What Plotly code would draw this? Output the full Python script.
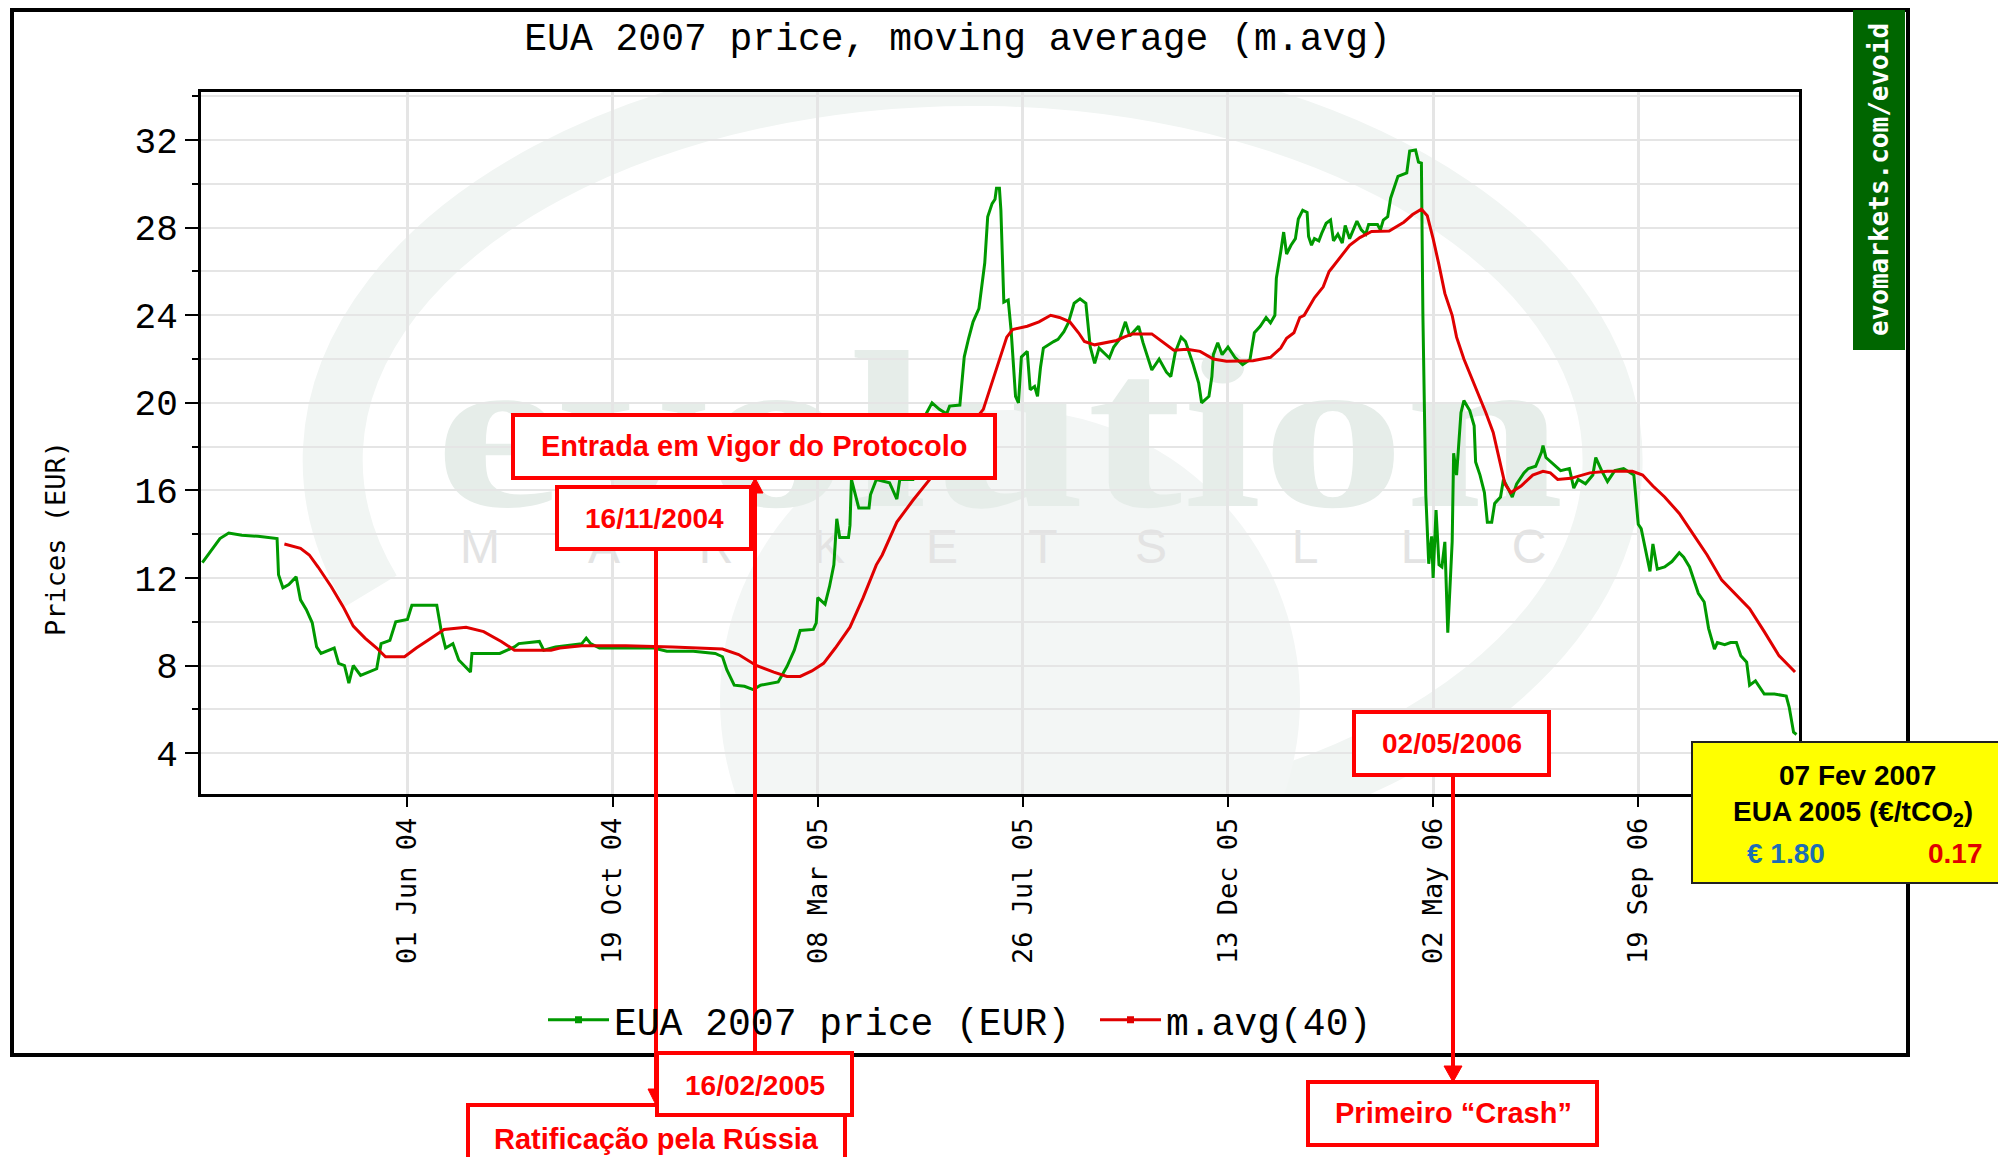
import base64
import plotly.graph_objects as go

# ---------------- data ----------------
price_dates = [
    "2004-01-13", "2004-01-25", "2004-01-31", "2004-02-09", "2004-02-20", "2004-03-04", "2004-03-05",
    "2004-03-08", "2004-03-12", "2004-03-17", "2004-03-20", "2004-03-24", "2004-03-28", "2004-03-31",
    "2004-04-03", "2004-04-12", "2004-04-15", "2004-04-19", "2004-04-22", "2004-04-25", "2004-04-30",
    "2004-05-05", "2004-05-11", "2004-05-14", "2004-05-20", "2004-05-24", "2004-06-01", "2004-06-04",
    "2004-06-21", "2004-06-24", "2004-06-27", "2004-07-02", "2004-07-06", "2004-07-14", "2004-07-15",
    "2004-08-03", "2004-08-13", "2004-08-16", "2004-08-30", "2004-09-02", "2004-09-10", "2004-09-28",
    "2004-10-01", "2004-10-04", "2004-10-10", "2004-10-29", "2004-11-16", "2004-11-25", "2004-12-13",
    "2004-12-28", "2005-01-02", "2005-01-05", "2005-01-10", "2005-01-17", "2005-01-23", "2005-01-28",
    "2005-02-09", "2005-02-15", "2005-02-20", "2005-02-24", "2005-03-05", "2005-03-07", "2005-03-08",
    "2005-03-13", "2005-03-16", "2005-03-19", "2005-03-21", "2005-03-23", "2005-03-29", "2005-03-30",
    "2005-03-31", "2005-04-05", "2005-04-12", "2005-04-13", "2005-04-17", "2005-04-26", "2005-05-01",
    "2005-05-03", "2005-05-12", "2005-05-17", "2005-05-21", "2005-05-25", "2005-05-30", "2005-06-04",
    "2005-06-06", "2005-06-13", "2005-06-14", "2005-06-16", "2005-06-19", "2005-06-22", "2005-06-26",
    "2005-06-28", "2005-06-30", "2005-07-02", "2005-07-05", "2005-07-07", "2005-07-08", "2005-07-10",
    "2005-07-11", "2005-07-13", "2005-07-16", "2005-07-18", "2005-07-21", "2005-07-23", "2005-07-25",
    "2005-07-29", "2005-07-31", "2005-08-03", "2005-08-05", "2005-08-07", "2005-08-09", "2005-08-16",
    "2005-08-19", "2005-08-23", "2005-08-26", "2005-08-30", "2005-09-03", "2005-09-07", "2005-09-10",
    "2005-09-13", "2005-09-16", "2005-09-23", "2005-09-26", "2005-09-30", "2005-10-04", "2005-10-07",
    "2005-10-13", "2005-10-16", "2005-10-20", "2005-10-22", "2005-10-27", "2005-11-01", "2005-11-04",
    "2005-11-07", "2005-11-11", "2005-11-14", "2005-11-19", "2005-11-23", "2005-11-25", "2005-11-30",
    "2005-12-02", "2005-12-03", "2005-12-06", "2005-12-09", "2005-12-13", "2005-12-18", "2005-12-23",
    "2005-12-28", "2005-12-31", "2006-01-04", "2006-01-08", "2006-01-11", "2006-01-14", "2006-01-15",
    "2006-01-18", "2006-01-20", "2006-01-22", "2006-01-25", "2006-01-28", "2006-01-30", "2006-02-02",
    "2006-02-05", "2006-02-06", "2006-02-08", "2006-02-10", "2006-02-13", "2006-02-15", "2006-02-18",
    "2006-02-21", "2006-02-23", "2006-02-26", "2006-03-01", "2006-03-03", "2006-03-06", "2006-03-11",
    "2006-03-14", "2006-03-17", "2006-03-19", "2006-03-25", "2006-03-27", "2006-03-29", "2006-04-01",
    "2006-04-03", "2006-04-06", "2006-04-08", "2006-04-14", "2006-04-16", "2006-04-20", "2006-04-22",
    "2006-04-24", "2006-04-25", "2006-04-27", "2006-04-29", "2006-05-01", "2006-05-02", "2006-05-04",
    "2006-05-06", "2006-05-08", "2006-05-10", "2006-05-12", "2006-05-15", "2006-05-16", "2006-05-18",
    "2006-05-21", "2006-05-23", "2006-05-27", "2006-05-30", "2006-05-31", "2006-06-03", "2006-06-06",
    "2006-06-08", "2006-06-11", "2006-06-13", "2006-06-17", "2006-06-19", "2006-06-22", "2006-06-25",
    "2006-06-28", "2006-07-03", "2006-07-06", "2006-07-11", "2006-07-15", "2006-07-16", "2006-07-18",
    "2006-07-23", "2006-07-28", "2006-08-03", "2006-08-06", "2006-08-09", "2006-08-14", "2006-08-19",
    "2006-08-21", "2006-08-25", "2006-08-29", "2006-09-03", "2006-09-09", "2006-09-16", "2006-09-19",
    "2006-09-21", "2006-09-25", "2006-09-27", "2006-09-29", "2006-10-02", "2006-10-07", "2006-10-12",
    "2006-10-17", "2006-10-20", "2006-10-24", "2006-10-28", "2006-10-30", "2006-11-03", "2006-11-06",
    "2006-11-10", "2006-11-12", "2006-11-17", "2006-11-21", "2006-11-25", "2006-11-28", "2006-12-02",
    "2006-12-04", "2006-12-08", "2006-12-12", "2006-12-14", "2006-12-21", "2006-12-29", "2006-12-31",
    "2007-01-03", "2007-01-05",
]
price_vals = [
    12.7, 13.8, 14.05, 13.95, 13.9, 13.8, 12.15,
    11.55, 11.7, 12.05, 11.0, 10.55, 9.95, 8.85,
    8.55, 8.8, 8.1, 8.0, 7.2, 8.0, 7.55,
    7.7, 7.85, 9.0, 9.15, 10.0, 10.1, 10.75,
    10.75, 9.6, 8.8, 9.0, 8.25, 7.7, 8.55,
    8.55, 8.85, 9.0, 9.1, 8.7, 8.85, 9.0,
    9.25, 9.0, 8.8, 8.8, 8.8, 8.65, 8.65,
    8.55, 8.4, 7.8, 7.1, 7.05, 6.9, 7.1,
    7.25, 7.95, 8.7, 9.6, 9.65, 9.95, 11.1,
    10.8, 11.6, 12.6, 14.7, 13.85, 13.85, 14.4,
    16.5, 15.2, 15.2, 15.8, 16.5, 16.35, 15.6,
    16.5, 16.5, 18.0, 19.5, 20.0, 19.7, 19.5,
    19.85, 19.9, 20.7, 22.1, 22.95, 23.7, 24.3,
    25.5, 26.4, 28.5, 29.1, 29.3, 29.8, 29.8,
    28.8, 24.6, 24.7, 23.3, 20.3, 20.0, 22.1,
    22.35, 20.6, 20.75, 20.3, 21.6, 22.5, 22.8,
    22.9, 23.25, 23.65, 24.55, 24.75, 24.55, 22.55,
    21.8, 22.5, 22.05, 22.55, 22.9, 23.7, 23.05,
    23.5, 22.75, 21.9, 21.5, 22.0, 21.4, 21.2,
    22.3, 23.0, 22.8, 21.8, 20.9, 20.0, 20.3,
    21.2, 22.2, 22.75, 22.2, 22.55, 22.05, 21.75,
    21.97, 23.2, 23.5, 23.9, 23.65, 24.0, 25.7,
    26.9, 27.8, 26.8, 27.2, 27.5, 28.4, 28.8,
    28.7, 27.6, 27.2, 27.5, 27.4, 27.75, 28.2,
    28.35, 27.4, 27.7, 27.3, 28.1, 27.5, 28.3,
    27.9, 27.7, 28.15, 28.15, 27.9, 28.35, 28.5,
    29.35, 29.95, 30.35, 30.5, 31.5, 31.55, 31.0,
    30.95, 24.1, 15.8, 12.65, 13.9, 12.0, 15.1,
    12.6, 12.5, 13.65, 9.5, 13.65, 17.7, 16.7,
    19.55, 20.1, 19.65, 18.95, 17.3, 16.7, 15.9,
    14.55, 14.55, 15.4, 15.7, 16.5, 16.1, 15.7,
    16.3, 16.8, 17.0, 17.1, 17.75, 18.05, 17.5,
    17.2, 16.9, 17.0, 16.1, 16.5, 16.3, 16.7,
    17.5, 16.9, 16.4, 16.9, 17.0, 16.7, 14.45,
    14.25, 12.85, 12.3, 13.55, 12.4, 12.5, 12.75,
    13.15, 12.95, 12.5, 11.7, 11.3, 10.9, 9.7,
    8.75, 9.05, 8.95, 9.05, 9.05, 8.45, 8.15,
    7.1, 7.3, 6.9, 6.7, 6.7, 6.6, 6.1,
    4.95, 4.85,
]

mavg_dates = [
    "2004-03-09", "2004-03-20", "2004-03-26", "2004-04-01", "2004-04-10", "2004-04-18", "2004-04-25",
    "2004-05-03", "2004-05-11", "2004-05-17", "2004-05-30", "2004-06-07", "2004-06-15", "2004-06-26",
    "2004-07-11", "2004-07-23", "2004-08-04", "2004-08-13", "2004-09-07", "2004-09-13", "2004-09-28",
    "2004-10-28", "2004-11-29", "2005-01-02", "2005-01-13", "2005-01-25", "2005-02-06", "2005-02-15",
    "2005-02-24", "2005-03-04", "2005-03-12", "2005-03-20", "2005-03-30", "2005-04-08", "2005-04-17",
    "2005-04-21", "2005-05-01", "2005-05-12", "2005-05-24", "2005-06-04", "2005-06-17", "2005-06-29",
    "2005-07-05", "2005-07-10", "2005-07-15", "2005-07-19", "2005-07-29", "2005-08-06", "2005-08-14",
    "2005-08-20", "2005-08-27", "2005-09-02", "2005-09-06", "2005-09-13", "2005-09-21", "2005-09-28",
    "2005-10-03", "2005-10-09", "2005-10-22", "2005-10-30", "2005-11-06", "2005-11-15", "2005-11-24",
    "2005-12-03", "2005-12-12", "2005-12-30", "2006-01-11", "2006-01-18", "2006-01-22", "2006-01-27",
    "2006-01-31", "2006-02-03", "2006-02-10", "2006-02-16", "2006-02-20", "2006-02-23", "2006-03-01",
    "2006-03-06", "2006-03-13", "2006-03-21", "2006-04-02", "2006-04-12", "2006-04-18", "2006-04-24",
    "2006-04-28", "2006-05-02", "2006-05-06", "2006-05-10", "2006-05-15", "2006-05-18", "2006-05-23",
    "2006-05-28", "2006-06-02", "2006-06-07", "2006-06-12", "2006-06-17", "2006-06-20", "2006-06-24",
    "2006-07-01", "2006-07-09", "2006-07-16", "2006-07-21", "2006-07-26", "2006-08-04", "2006-08-17",
    "2006-08-29", "2006-09-15", "2006-09-22", "2006-09-29", "2006-10-07", "2006-10-17", "2006-10-26",
    "2006-11-05", "2006-11-15", "2006-11-25", "2006-12-04", "2006-12-14", "2006-12-24", "2007-01-04",
]
mavg_vals = [
    13.55, 13.35, 13.05, 12.5, 11.6, 10.7, 9.8,
    9.25, 8.8, 8.4, 8.4, 8.8, 9.15, 9.65,
    9.75, 9.55, 9.1, 8.7, 8.7, 8.8, 8.9,
    8.9, 8.85, 8.75, 8.5, 8.0, 7.7, 7.5,
    7.5, 7.75, 8.1, 8.8, 9.75, 11.1, 12.6,
    13.05, 14.55, 15.55, 16.55, 17.55, 18.7, 19.7,
    20.9, 22.0, 23.0, 23.35, 23.5, 23.7, 24.0,
    23.9, 23.7, 23.2, 22.8, 22.65, 22.75, 22.85,
    23.0, 23.15, 23.15, 22.75, 22.4, 22.45, 22.35,
    22.0, 21.9, 21.92, 22.08, 22.5, 22.95, 23.2,
    23.9, 24.0, 24.8, 25.3, 26.0, 26.25, 26.75,
    27.2, 27.55, 27.83, 27.85, 28.25, 28.6, 28.85,
    28.55, 27.5, 26.3, 25.0, 24.0, 23.0, 22.0,
    21.2, 20.4, 19.55, 18.65, 17.2, 16.3, 15.9,
    16.2, 16.7, 16.87, 16.8, 16.5, 16.55, 16.8,
    16.87, 16.87, 16.7, 16.2, 15.7, 14.95, 14.05,
    13.05, 11.9, 11.2, 10.6, 9.55, 8.45, 7.7,
]

tick_dates = ["2004-06-01", "2004-10-19", "2005-03-08", "2005-07-26", "2005-12-13",
              "2006-05-02", "2006-09-19"]

series_names = ["EUA 2007 price (EUR)", "m.avg(40)"]
title_text = "EUA 2007 price, moving average (m.avg)"
y_title = "Prices (EUR)"
event_labels = ["Entrada em Vigor do Protocolo", "16/11/2004", "16/02/2005",
                "Ratificação pela Rússia", "02/05/2006", "Primeiro “Crash”"]
info_lines = ["07 Fev 2007", "EUA 2005 (€/tCO<sub>2</sub>)", "€ 1.80", "0.17"]
brand = "evomarkets.com/evoid"

# ---------------- geometry (page pixels) ----------------
PAGE_W, PAGE_H = 2006, 1165
OFF = 8                      # default body margin of the html page
FIG_W, FIG_H = PAGE_W - 2 * OFF, PAGE_H - 2 * OFF
L, R, T, B = 201, 1799, 92, 794   # plot area on the page
PW, PH = R - L, B - T


def px(x):
    return (x - L) / PW


def py(y):
    return (B - y) / PH


GREEN = "#009900"
RED = "#e00000"
ARED = "#ff0000"

fig = go.Figure()
fig.add_trace(go.Scatter(x=price_dates, y=price_vals, mode="lines",
                         line=dict(color=GREEN, width=3), showlegend=False))
fig.add_trace(go.Scatter(x=mavg_dates, y=mavg_vals, mode="lines",
                         line=dict(color=RED, width=3), showlegend=False))
# legend entries
fig.add_trace(go.Scatter(x=[None], y=[None], mode="lines+markers", name=series_names[0],
                         line=dict(color=GREEN, width=3),
                         marker=dict(symbol="square", size=7, color=GREEN)))
fig.add_trace(go.Scatter(x=[None], y=[None], mode="lines+markers", name=series_names[1],
                         line=dict(color=RED, width=3),
                         marker=dict(symbol="square", size=7, color=RED)))

# ---------------- watermark (background image) ----------------
letters = [("M", 480), ("A", 604), ("R", 716), ("K", 829), ("E", 942), ("T", 1043),
           ("S", 1151), ("L", 1305), ("L", 1414), ("C", 1529)]
letter_svg = "".join(
    f'<text x="{lx}" y="563" text-anchor="middle" font-family="Liberation Sans" '
    f'font-size="48" fill="#e3e3e3">{ch}</text>' for ch, lx in letters)
svg = (
    f'<svg xmlns="http://www.w3.org/2000/svg" width="{PAGE_W}" height="{PAGE_H}" '
    f'viewBox="0 0 {PAGE_W} {PAGE_H}">'
    f'<defs><clipPath id="c"><rect x="{L}" y="{T}" width="{PW}" height="{PH}"/></clipPath></defs>'
    f'<g clip-path="url(#c)">'
    f'<path d="M 371 591 A 640 384 0 1 1 1191 821" fill="none" stroke="#f1f5f3" stroke-width="60"/>'
    f'<circle cx="1010" cy="700" r="290" fill="#f3f6f5"/>'
    f'<text x="435" y="506" font-family="Liberation Serif" font-weight="bold" font-size="225" '
    f'fill="#e6ede9" textLength="1129" lengthAdjust="spacingAndGlyphs">evolution</text>'
    f'{letter_svg}</g></svg>'
)
src = "data:image/svg+xml;base64," + base64.b64encode(svg.encode("utf-8")).decode()
fig.add_layout_image(dict(source=src, xref="paper", yref="paper", x=px(0), y=py(0),
                          sizex=PAGE_W / PW, sizey=PAGE_H / PH, xanchor="left", yanchor="top",
                          sizing="stretch", layer="below"))

# ---------------- shapes ----------------
shapes = []


def rect(x0, y0, x1, y1, fill=None, color=ARED, width=4):
    d = dict(type="rect", xref="paper", yref="paper", x0=px(x0), x1=px(x1), y0=py(y1), y1=py(y0),
             line=dict(color=color, width=width), layer="above")
    if fill is not None:
        d["fillcolor"] = fill
    if width == 0:
        d["line"] = dict(width=0)
    shapes.append(d)


def vline(x, y0, y1):
    shapes.append(dict(type="line", xref="paper", yref="paper", x0=px(x), x1=px(x), y0=py(y0), y1=py(y1),
                       line=dict(color=ARED, width=4), layer="above"))


def tri(xt, yt, ybase, hw):
    path = f"M {px(xt)} {py(yt)} L {px(xt - hw)} {py(ybase)} L {px(xt + hw)} {py(ybase)} Z"
    shapes.append(dict(type="path", xref="paper", yref="paper", path=path, fillcolor=ARED,
                       line=dict(color=ARED, width=1), layer="above"))


# outer frame and brand strip
rect(12, 10, 1908, 1055, color="black", width=4)
rect(1853, 10, 1905, 350, fill="#006600", width=0)
# annotation lines + arrows
vline(656, 549, 1092)
tri(656, 1105, 1089, 8)
vline(755, 1053, 490)
tri(755, 478, 493, 8)
vline(1453, 775, 1068)
tri(1453, 1082, 1066, 9)
# red boxes
rect(513, 415, 995, 478, fill="white")
rect(557, 487, 751, 549, fill="white")
rect(468, 1105, 845, 1190, fill="white")
rect(657, 1053, 852, 1115, fill="white")
rect(1354, 712, 1549, 775, fill="white")
rect(1308, 1082, 1597, 1145, fill="white")
# yellow info box
rect(1692, 742, 2012, 883, fill="#ffff00", color="#222222", width=2)

# ---------------- annotations ----------------
ann = []


def text(t, x, y, color=ARED, size=29, family="Liberation Sans", weight="bold", angle=0):
    ann.append(dict(text=t, xref="paper", yref="paper", x=px(x), y=py(y), xanchor="center",
                    yanchor="middle", showarrow=False, textangle=angle,
                    font=dict(family=family, size=size, color=color, weight=weight)))


text(event_labels[0], 754, 446)
text(event_labels[1], 654, 518, size=28)
text(event_labels[2], 755, 1085, size=28)
text(event_labels[3], 656, 1139)
text(event_labels[4], 1452, 743, size=28)
text(event_labels[5], 1453, 1113)
text(info_lines[0], 1857, 775, color="black", size=28)
text(info_lines[1], 1853, 813, color="black", size=28)
text(info_lines[2], 1786, 853, color="#1c6db5", size=28)
text(info_lines[3], 1955, 853, color="#e00000", size=28)
text(brand, 1879, 179, color="white", size=26, family="DejaVu Sans Mono", angle=-90)
text(y_title, 55, 539, color="black", size=27, family="DejaVu Sans Mono", weight="normal", angle=-90)

fig.update_layout(
    width=FIG_W, height=FIG_H,
    margin=dict(l=L - OFF, r=FIG_W - (R - OFF), t=T - OFF, b=FIG_H - (B - OFF), pad=0),
    paper_bgcolor="white", plot_bgcolor="rgba(0,0,0,0)",
    title=dict(text=title_text, x=(957.6 - OFF) / FIG_W, xanchor="center",
               y=1 - (37 - OFF) / FIG_H, yanchor="middle",
               font=dict(family="Liberation Mono", size=38, color="black")),
    legend=dict(orientation="h", x=px(543), xanchor="left", y=py(1020), yanchor="middle",
                font=dict(family="Liberation Mono", size=38, color="black"),
                bgcolor="rgba(0,0,0,0)", itemwidth=61, entrywidth=476, entrywidthmode="pixels"),
    shapes=shapes, annotations=ann,
    xaxis=dict(type="date", range=["2004-01-12 02:00", "2007-01-06 17:00"],
               tickmode="array", tickvals=tick_dates, tickformat="%d %b %y", tickangle=-90,
               ticks="outside", ticklen=10, tickwidth=2, tickcolor="black",
               showgrid=True, gridcolor="#e5e5e5", gridwidth=3,
               showline=True, linecolor="black", linewidth=3, mirror=True,
               tickfont=dict(family="DejaVu Sans Mono", size=27, color="black"), zeroline=False),
    yaxis=dict(range=[2.13, 34.2], tick0=0, dtick=4,
               ticks="outside", ticklen=13, tickwidth=2, tickcolor="black",
               showgrid=True, gridcolor="#e5e5e5", gridwidth=2,
               minor=dict(tick0=0, dtick=2, ticks="outside", ticklen=6, tickwidth=2, tickcolor="black",
                          showgrid=True, gridcolor="#e5e5e5", gridwidth=2),
               showline=True, linecolor="black", linewidth=3, mirror=True,
               tickfont=dict(family="Liberation Mono", size=36, color="black"), zeroline=False),
)

fig.write_html("out.html")
